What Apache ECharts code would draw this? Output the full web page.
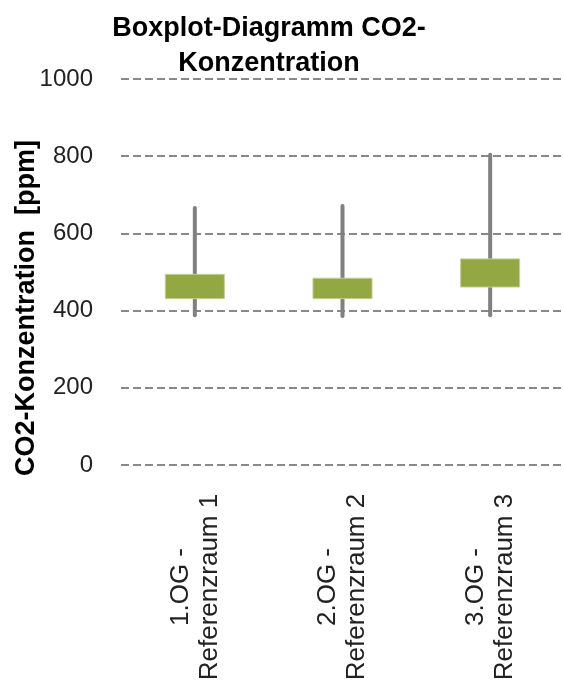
<!DOCTYPE html>
<html>
<head>
<meta charset="utf-8">
<script src="https://cdn.jsdelivr.net/npm/echarts@6/dist/echarts.min.js"></script>
<style>
html,body{margin:0;padding:0;background:#fff;}
#chart{width:563px;height:682px;}
</style>
</head>
<body>
<div id="chart"></div>
<script>
const categories = ['1.OG -\nReferenzraum 1', '2.OG -\nReferenzraum 2', '3.OG -\nReferenzraum 3'];
const minValues = [388, 386, 388];
const q1Values = [431, 431, 461];
const q3Values = [494, 484, 534];
const maxValues = [666, 671, 804];
const yTicks = [0, 200, 400, 600, 800, 1000];

const chart = echarts.init(document.getElementById('chart'), null, {renderer: 'canvas'});
const seriesData = categories.map((c, i) => [i, minValues[i], q1Values[i], q3Values[i], maxValues[i]]);

const option = {
  backgroundColor: '#fff',
  animation: false,
  title: {
    text: 'Boxplot-Diagramm CO2-\nKonzentration',
    left: 264,
    top: 6,
    textAlign: 'center',
    textStyle: {fontFamily: 'Liberation Sans, Arial, sans-serif', fontSize: 27, fontWeight: 'bold', color: '#000', lineHeight: 35}
  },
  grid: {left: 121, top: 79, width: 443, bottom: 217, outerBoundsMode: 'none', containLabel: false},
  xAxis: {
    type: 'category',
    data: categories,
    boundaryGap: true,
    axisLine: {show: false},
    axisTick: {show: false},
    splitLine: {show: false},
    axisLabel: {
      rotate: 90,
      align: 'center',
      verticalAlign: 'middle',
      margin: 122,
      fontFamily: 'Liberation Sans, Arial, sans-serif',
      fontSize: 26,
      lineHeight: 29,
      color: '#222',
      interval: 0
    }
  },
  yAxis: {
    type: 'value',
    min: yTicks[0],
    max: yTicks[yTicks.length - 1],
    interval: 200,
    axisLine: {show: false},
    axisTick: {show: false},
    axisLabel: {margin: 28, fontFamily: 'Liberation Sans, Arial, sans-serif', fontSize: 24, color: '#222', formatter: v => String(v)},
    splitLine: {show: true, lineStyle: {color: '#898989', width: 2, type: [8, 4]}}
  },
  graphic: [{
    type: 'text',
    x: 27,
    y: 308,
    rotation: Math.PI / 2,
    style: {
      text: 'CO2-Konzentration  [ppm]',
      fontFamily: 'Liberation Sans, Arial, sans-serif',
      fontSize: 27,
      fontWeight: 'bold',
      fill: '#000',
      align: 'center',
      verticalAlign: 'middle'
    }
  }],
  series: [{
    type: 'custom',
    data: seriesData,
    encode: {x: 0, y: [1, 2, 3, 4]},
    renderItem: function (params, api) {
      const i = api.value(0);
      const lo = api.coord([i, api.value(1)]);
      const q1 = api.coord([i, api.value(2)]);
      const q3 = api.coord([i, api.value(3)]);
      const hi = api.coord([i, api.value(4)]);
      const bw = api.size([1, 0])[0] * 0.4;
      return {
        type: 'group',
        children: [
          {type: 'line', shape: {x1: lo[0], y1: lo[1], x2: hi[0], y2: hi[1]}, style: {stroke: '#808080', lineWidth: 4, lineCap: 'round'}},
          {type: 'rect', shape: {x: q1[0] - bw / 2, y: q3[1], width: bw, height: q1[1] - q3[1]}, style: {fill: '#93a843', stroke: '#c3d197', lineWidth: 1}}
        ]
      };
    }
  }]
};
chart.setOption(option);
</script>
</body>
</html>
